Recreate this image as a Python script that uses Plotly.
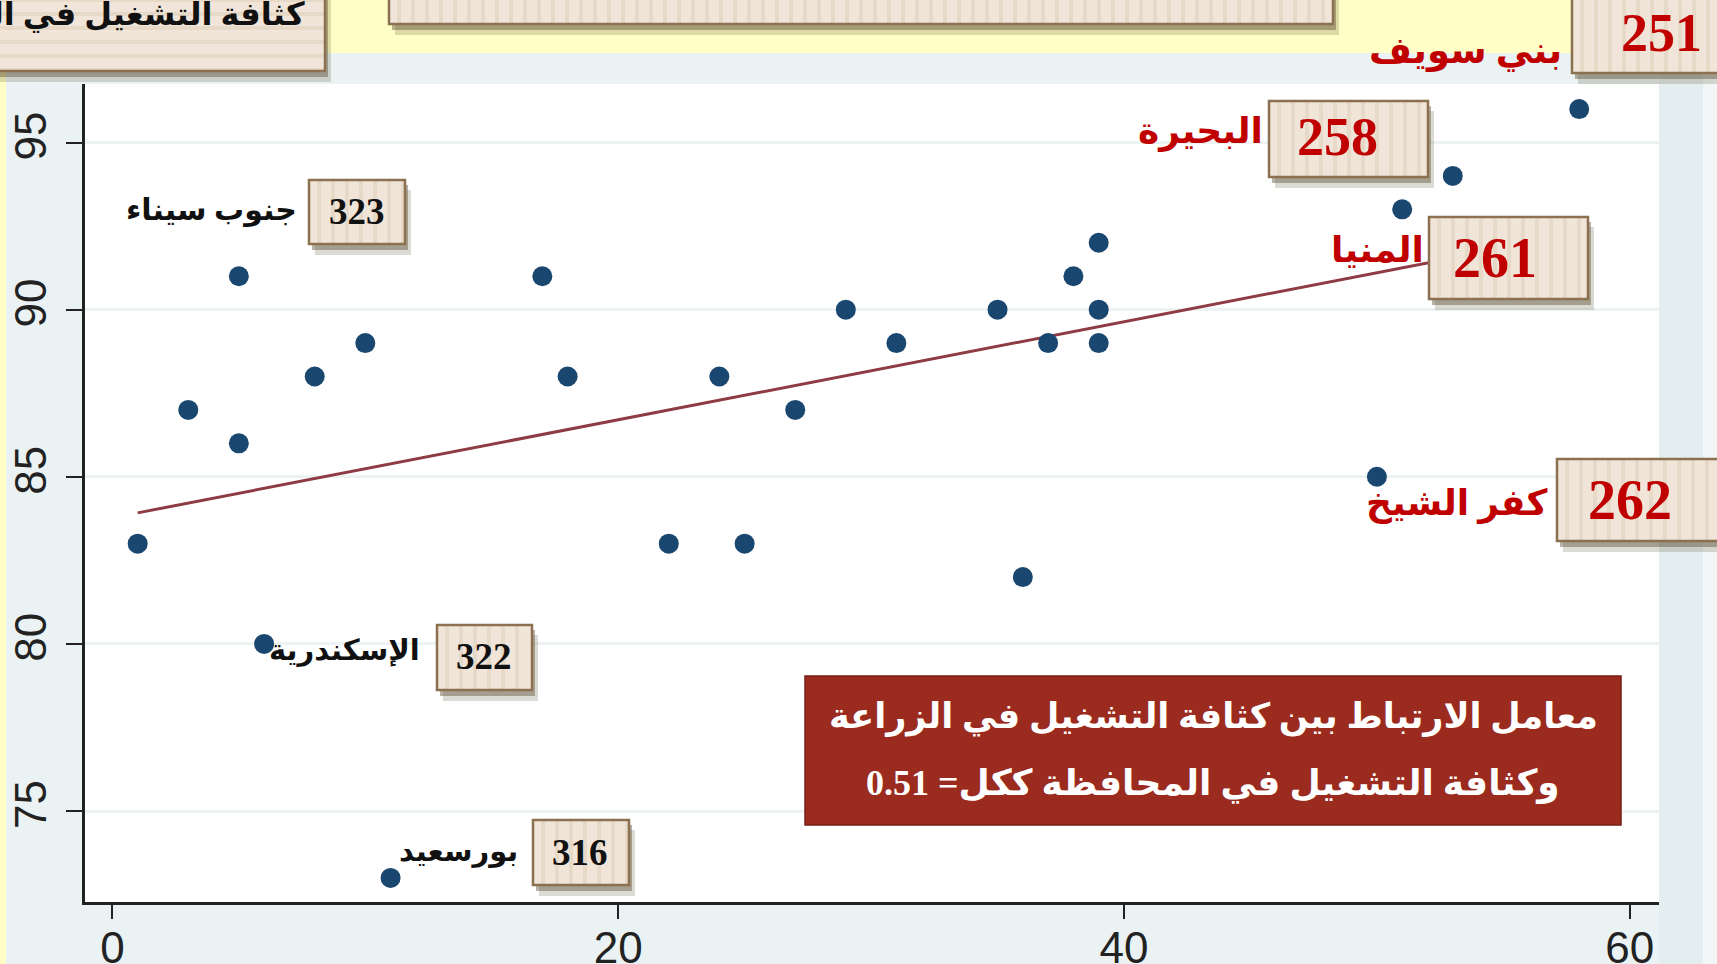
import numpy as np
import plotly.graph_objects as go

# ---------------- data ----------------
x_agri = [1, 3, 5, 5, 8, 10, 6, 11, 17, 18, 22, 24, 25, 27, 29, 31, 35, 36, 37, 38, 39, 39, 39, 50, 51, 53, 58]
y_total = [83, 87, 91, 86, 88, 89, 80, 73, 91, 88, 83, 88, 83, 87, 90, 89, 90, 82, 89, 91, 92, 90, 89, 85, 93, 94, 96]

x_ticks = [0, 20, 40, 60]
y_ticks = [75, 80, 85, 90, 95]

label_names = ["بني سويف", "البحيرة", "المنيا", "كفر الشيخ", "جنوب سيناء", "الإسكندرية", "بورسعيد"]
label_values = ["251", "258", "261", "262", "323", "322", "316"]

corr_value = 0.51
corr_line1 = "معامل الارتباط بين كثافة التشغيل في الزراعة"
corr_line2 = "وكثافة التشغيل في المحافظة ككل= {:.2f}"
y_title = "كثافة التشغيل في المحافظة ككل"
top_title = "العلاقة بين كثافة التشغيل في الزراعة وكثافة التشغيل في المحافظة"

# ---------------- geometry helpers (pixels -> paper) ----------------
W, H = 1717, 964
L, R, T, B = 85, 58, 84, 62
PW, PH = W - L - R, H - T - B


def px(x):
    return (x - L) / PW


def py(y):
    return (H - B - y) / PH


RED = "#C00000"
BLACK = "#111111"
AR_FONT = "Liberation Serif, DejaVu Sans, serif"
NUM_FONT = "Liberation Serif, serif"

shapes = []
annotations = []


def rect(x0, y0, x1, y1, fill, line_color=None, line_width=0, layer="above"):
    shapes.append(dict(type="rect", xref="paper", yref="paper",
                       x0=px(x0), x1=px(x1), y0=py(y1), y1=py(y0),
                       fillcolor=fill, layer=layer,
                       line=dict(color=line_color or fill, width=line_width)))


def beige_box(x0, y0, x1, y1, horizontal=False):
    # shadow
    rect(x0 + 6, y0 + 10, x1 + 6, y1 + 11, "rgba(95,85,60,0.22)")
    rect(x0 + 3, y0 + 5, x1 + 3, y1 + 6, "rgba(95,85,60,0.45)")
    rect(x0, y0, x1, y1, "#F0E5D8")
    if horizontal:
        yy = y0 + 8
        while yy < y1 - 2:
            rect(x0 + 1, yy, x1 - 1, yy + 4, "#E6D9C8")
            yy += 14
    else:
        xx = x0 + 8
        while xx < x1 - 3:
            rect(xx, y0 + 1, xx + 4, y1 - 1, "#E6D9C8")
            xx += 14
    shapes.append(dict(type="rect", xref="paper", yref="paper",
                       x0=px(x0), x1=px(x1), y0=py(y1), y1=py(y0),
                       fillcolor="rgba(0,0,0,0)", layer="above",
                       line=dict(color="#8B7150", width=2.5)))


def text(x, y, s, size, color, xanchor="center", family=AR_FONT):
    annotations.append(dict(xref="paper", yref="paper", x=px(x), y=py(y),
                            text="<b>" + s + "</b>", showarrow=False,
                            xanchor=xanchor, yanchor="middle",
                            font=dict(size=size, color=color, family=family)))


# ---------------- background regions ----------------
rect(0, 0, W, 53, "#FFFEC6", layer="below")
rect(0, 0, 6, H, "#FFFEC6", layer="below")
rect(PW + L, 53, 1703, H, "#E4EDEF", layer="below")
rect(1703, 53, W, H, "#F2F6F6", layer="below")

# ---------------- traces ----------------
slope, intercept = np.polyfit(x_agri, y_total, 1)
x_fit = np.array([min(x_agri), max(x_agri)])
y_fit = intercept + slope * x_fit

fig = go.Figure()
fig.add_trace(go.Scatter(x=x_fit, y=y_fit, mode="lines",
                         line=dict(color="#8E3B44", width=3), hoverinfo="skip"))
fig.add_trace(go.Scatter(x=x_agri, y=y_total, mode="markers",
                         marker=dict(color="#1A476F", size=20)))

# ---------------- top boxes ----------------
beige_box(-10, -10, 325, 71, horizontal=True)
text(307, 14, y_title, 32, BLACK, xanchor="right")

beige_box(389, -10, 1333, 24)
text(861, -22, top_title, 36, BLACK)

# ---------------- point label boxes ----------------
label_layout = [
    # box x0, y0, x1, y1, number x, number y, number size, colour, name right x, name y, name size
    (1572, -4, 1730, 73, 1661, 33, 54, RED, 1564, 51, 37),
    (1269, 101, 1428, 177, 1337, 137, 54, RED, 1265, 131, 36),
    (1429, 217, 1588, 299, 1495, 258, 56, RED, 1426, 250, 36),
    (1557, 459, 1730, 541, 1630, 500, 56, RED, 1549, 503, 36),
    (309, 180, 405, 244, 357, 211, 37, BLACK, 299, 210, 30),
    (437, 625, 532, 690, 484, 656, 37, BLACK, 422, 650, 29),
    (533, 820, 629, 885, 580, 852, 37, BLACK, 520, 851, 29),
]
for name, val, lay in zip(label_names, label_values, label_layout):
    bx0, by0, bx1, by1, tx, ty, tsize, col, nx, ny, nsize = lay
    beige_box(bx0, by0, bx1, by1)
    text(tx, ty, val, tsize, col, family=NUM_FONT)
    text(nx, ny, name, nsize, col, xanchor="right")

# ---------------- correlation box ----------------
rect(805, 676, 1621, 825, "#9A2B1E", line_color="#7A1E14", line_width=1.5)
text(1213, 717, corr_line1, 35, "white")
text(1213, 783, corr_line2.format(corr_value), 36, "white")

fig.update_layout(
    width=W, height=H,
    margin=dict(l=L, r=R, t=T, b=B, autoexpand=False),
    paper_bgcolor="#EAF2F3",
    plot_bgcolor="white",
    showlegend=False,
    shapes=shapes,
    annotations=annotations,
    xaxis=dict(range=[-27.4 / 25.29, (PW - 27.4) / 25.29], automargin=False,
               tickvals=x_ticks, showgrid=False, zeroline=False,
               showline=True, linecolor="#222", linewidth=2.5,
               ticks="outside", ticklen=14, tickwidth=2, tickcolor="#222",
               ticklabelstandoff=-9,
               tickfont=dict(family="Liberation Sans, Arial, sans-serif", size=44, color="#222")),
    yaxis=dict(range=[72.28, 96.75], tickvals=y_ticks, tickangle=-90, automargin=False,
               showgrid=True, gridcolor="#EDF2F3", gridwidth=2.5, zeroline=False,
               showline=True, linecolor="#222", linewidth=2.5,
               ticks="outside", ticklen=16, tickwidth=2, tickcolor="#222",
               ticklabelstandoff=3,
               tickfont=dict(family="Liberation Sans, Arial, sans-serif", size=44, color="#222")),
)

fig.write_html("out.html", config={"displayModeBar": False},
               post_script="document.body.style.margin='0';document.body.style.overflow='hidden';")
